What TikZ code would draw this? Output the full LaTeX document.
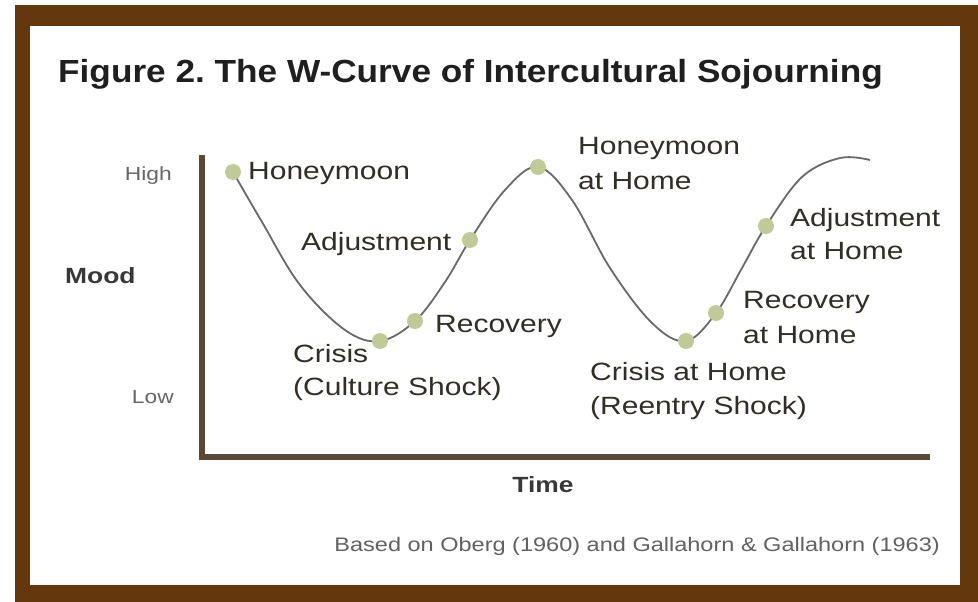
\documentclass[tikz,border=0pt]{standalone}
\usepackage{fontspec}
\setmainfont{Liberation Sans}
\newfontfamily\labfont{Liberation Sans}[FakeStretch=1.2]
\newfontfamily\titlefont{Liberation Sans}[FakeStretch=1.1]
\definecolor{framebrown}{RGB}{100,56,12}
\definecolor{axisbrown}{RGB}{92,72,55}
\definecolor{dotgreen}{RGB}{192,202,150}
\definecolor{labtext}{RGB}{50,45,38}
\definecolor{curvegray}{RGB}{105,105,105}
\frenchspacing
\begin{document}
\begin{tikzpicture}[x=1pt,y=-1pt,
  lab/.style={font=\labfont\fontsize{25}{30}\selectfont, text=labtext, inner sep=0pt, anchor=base west},
  axlab/.style={font=\labfont\fontsize{19}{23}\selectfont, text=black!60, inner sep=0pt},
  axname/.style={font=\labfont\bfseries\fontsize{22}{26}\selectfont, text=black!78, inner sep=0pt},
  dot/.style={circle, fill=dotgreen, minimum size=16pt, inner sep=0pt},
  curve/.style={draw=curvegray, line width=1.8pt},
  axis/.style={draw=axisbrown, line width=6pt}]
\useasboundingbox (0,0) rectangle (978,602);
% frame
\fill[white] (0,0) rectangle (978,602);
\fill[framebrown] (15,5) rectangle (978,602);
\fill[white] (30,26) rectangle (960,585);
% title
\node[font=\titlefont\bfseries\fontsize{32}{38}\selectfont, text=black!88, inner sep=0pt, anchor=base west] (title) at (58,83) {Figure 2. The W-Curve of Intercultural Sojourning};
% axes
\coordinate (ytop) at (202,155);
\coordinate (orig) at (202,457);
\coordinate (xend) at (930,457);
\draw[axis] (ytop) -- (orig) -- (xend);
% axis labels
\node[axlab, anchor=base east] (high) at (172,180) {High};
\node[axlab, anchor=base east] (low) at (174,403) {Low};
\node[axname, anchor=base west] (mood) at (65,283) {Mood};
\node[axname, anchor=base] (time) at (543,492) {Time};
% curve points
\coordinate (p1) at (233,172);
\coordinate (p2) at (380,341);
\coordinate (p3) at (415,321);
\coordinate (p4) at (470,240);
\coordinate (p5) at (538,167);
\coordinate (p6) at (686,341);
\coordinate (p7) at (716,313);
\coordinate (p8) at (766,226);
\coordinate (pend) at (870,160);
\draw[curve] plot[smooth, tension=0.6] coordinates {(p1) (262,222) (300,285) (345,330) (p2) (p3) (445,282) (p4) (505,190) (p5) (572,200) (610,268) (652,323) (p6) (p7) (742,268) (p8) (802,177) (840,158) (pend)};
% dots
\node[dot] (hm) at (p1) {};
\node[dot] (cr) at (p2) {};
\node[dot] (rc) at (p3) {};
\node[dot] (ad) at (p4) {};
\node[dot] (hmh) at (p5) {};
\node[dot] (crh) at (p6) {};
\node[dot] (rch) at (p7) {};
\node[dot] (adh) at (p8) {};
% labels
\node[lab] (lhm) at (248,179) {Honeymoon};
\node[lab] (lad) at (301,250) {Adjustment};
\node[lab] (lcr1) at (293,362) {Crisis};
\node[lab] (lcr2) at (293,395) {(Culture Shock)};
\node[lab] (lrc) at (435,332) {Recovery};
\node[lab] (lhmh1) at (578,154) {Honeymoon};
\node[lab] (lhmh2) at (578,189) {at Home};
\node[lab] (ladh1) at (790,226) {Adjustment};
\node[lab] (ladh2) at (790,259) {at Home};
\node[lab] (lrch1) at (743,308) {Recovery};
\node[lab] (lrch2) at (743,343) {at Home};
\node[lab] (lcrh1) at (590,380) {Crisis at Home};
\node[lab] (lcrh2) at (590,414) {(Reentry Shock)};
% footer
\node[font=\labfont\fontsize{19.6}{24}\selectfont, text=black!62, inner sep=0pt, anchor=base east] (foot) at (940,551) {Based on Oberg (1960) and Gallahorn \& Gallahorn (1963)};
\end{tikzpicture}
\end{document}
